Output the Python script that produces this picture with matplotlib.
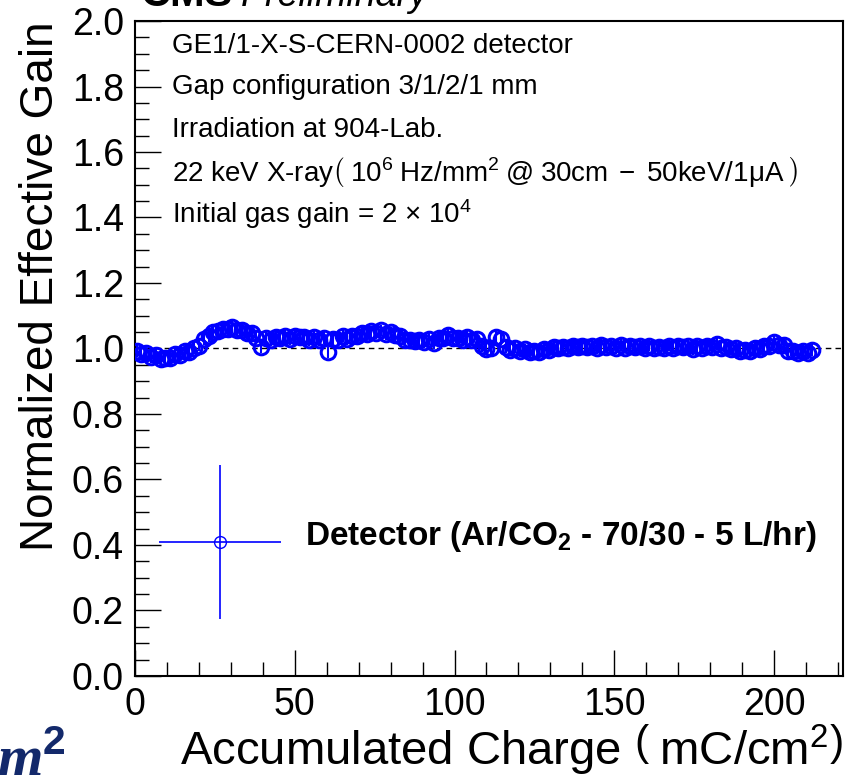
import matplotlib
matplotlib.use("Agg")
import matplotlib.pyplot as plt

plt.rcParams['font.family'] = ['Liberation Sans', 'DejaVu Sans']
plt.rcParams['mathtext.fontset'] = 'custom'
plt.rcParams['mathtext.rm'] = 'Liberation Sans'
plt.rcParams['mathtext.it'] = 'Liberation Sans:italic'
plt.rcParams['mathtext.bf'] = 'Liberation Sans:bold'

# Accumulated charge (mC/cm2) and normalized effective gain
charge = [0.5, 2, 3.5, 5, 6.5, 8, 9.5, 11, 12.5, 14,
          15.5, 17, 18.5, 20, 21.5, 23, 24.5, 26, 27.5, 29,
          30.5, 32, 33.5, 35, 36.5, 38, 39.5, 41, 42.5, 44,
          45.5, 47, 48.5, 50, 51.5, 53, 54.5, 56, 57.5, 59,
          60.5, 62, 63.5, 65, 66.5, 68, 69.5, 71, 72.5, 74,
          75.5, 77, 78.5, 80, 81.5, 83, 84.5, 86, 87.5, 89,
          90.5, 92, 93.5, 95, 96.5, 98, 99.5, 101, 102.5, 104,
          105.5, 107, 108.5, 110, 111.5, 113, 114.5, 116, 117.5, 119,
          120.5, 122, 123.5, 125, 126.5, 128, 129.5, 131, 132.5, 134,
          135.5, 137, 138.5, 140, 141.5, 143, 144.5, 146, 147.5, 149,
          150.5, 152, 153.5, 155, 156.5, 158, 159.5, 161, 162.5, 164,
          165.5, 167, 168.5, 170, 171.5, 173, 174.5, 176, 177.5, 179,
          180.5, 182, 183.5, 185, 186.5, 188, 189.5, 191, 192.5, 194,
          195.5, 197, 198.5, 200, 201.5, 203, 204.5, 206, 207.5, 209,
          210.5, 212]
gain = [0.992, 0.984, 0.985, 0.975, 0.979, 0.968, 0.971, 0.972, 0.982, 0.979,
        0.991, 0.990, 1.001, 1.009, 1.029, 1.037, 1.051, 1.052, 1.061, 1.060,
        1.066, 1.055, 1.057, 1.047, 1.047, 1.033, 1.004, 1.031, 1.027, 1.035,
        1.031, 1.039, 1.028, 1.038, 1.035, 1.036, 1.027, 1.035, 1.025, 1.033,
        0.988, 1.029, 1.027, 1.037, 1.029, 1.039, 1.037, 1.047, 1.043, 1.052,
        1.047, 1.055, 1.045, 1.049, 1.041, 1.039, 1.025, 1.027, 1.023, 1.025,
        1.021, 1.029, 1.017, 1.031, 1.031, 1.041, 1.031, 1.033, 1.025, 1.035,
        1.027, 1.029, 1.008, 0.998, 1.000, 1.036, 1.030, 1.004, 0.995, 1.003,
        0.993, 0.997, 0.989, 0.993, 0.990, 0.999, 0.995, 1.005, 1.001, 1.006,
        1.003, 1.007, 1.004, 1.008, 1.005, 1.009, 1.001, 1.010, 1.006, 1.009,
        1.002, 1.011, 1.003, 1.007, 1.004, 1.008, 1.000, 1.009, 1.001, 1.005,
        1.001, 1.009, 1.000, 1.008, 1.004, 1.007, 0.999, 1.008, 1.000, 1.009,
        1.005, 1.013, 1.003, 1.005, 0.997, 1.001, 0.991, 0.995, 0.992, 1.001,
        0.999, 1.009, 1.009, 1.019, 1.011, 1.011, 0.991, 0.993, 0.985, 0.992,
        0.987, 0.995]
gain_err = 0.018

# legend sample point (charge, gain, x half-width, y half-height)
leg_x, leg_y, leg_xerr, leg_yerr = 26.6, 0.41, 19.0, 0.235

info_lines = [
    'GE1/1-X-S-CERN-0002 detector',
    'Gap configuration 3/1/2/1 mm',
    'Irradiation at 904-Lab.',
    r'22 keV X-ray$\left(\;\mathrm{10^{6}\;Hz/mm^{2}\;@\;30cm\;-\;50keV/1\mu A}\;\right)$',
    r'Initial gas gain = 2 $\times$ 10$^{4}$',
]
info_y = [0.962, 0.899, 0.833, 0.769, 0.705]

fig = plt.figure(figsize=(8.46, 7.84), dpi=100)
ax = fig.add_axes([0.1596, 0.1378, 0.8369, 0.8354])

ax.axhline(1.0, color='black', lw=1.0, ls=(0, (4, 3)), zorder=1)
ax.errorbar(charge, gain, yerr=gain_err, fmt='o', color='blue', mfc='none',
            mec='blue', ms=10.5, mew=2.2, elinewidth=1.5, zorder=3)

# legend entry drawn like the ROOT one
ax.errorbar([leg_x], [leg_y], xerr=leg_xerr, yerr=leg_yerr, fmt='o', color='blue',
            mfc='none', ms=8.5, mew=1.0, elinewidth=1.2)
ax.text(0.240, 0.213, r'Detector (Ar/CO$_\mathbf{2}$ - 70/30 - 5 L/hr)', transform=ax.transAxes,
        fontsize=24, fontweight='bold', va='center', ha='left')

for txt, yy in zip(info_lines, info_y):
    ax.text(0.052, yy, txt, transform=ax.transAxes, fontsize=20, va='center', ha='left')

ax.set_xlim(0, 221.6)
ax.set_ylim(0, 2.0)
ax.set_xticks([0, 50, 100, 150, 200])
ax.set_xticks(range(0, 221, 10), minor=True)
ax.set_yticks([0.0, 0.2, 0.4, 0.6, 0.8, 1.0, 1.2, 1.4, 1.6, 1.8, 2.0])
ax.set_yticks([i * 0.05 for i in range(41)], minor=True)
ax.set_yticklabels(['0.0', '0.2', '0.4', '0.6', '0.8', '1.0', '1.2', '1.4', '1.6', '1.8', '2.0'])
ax.tick_params(which='both', direction='in', top=False, right=False, labelsize=27, width=1.0)
ax.tick_params(which='major', length=19, pad=8)
ax.tick_params(which='minor', length=10)
for sp in ax.spines.values():
    sp.set_linewidth(1.5)

ax.set_xlabel(r'Accumulated Charge $\left(\;\mathrm{mC/cm^{2}}\right)$', fontsize=34, loc='right', labelpad=-1)
ax.set_ylabel('Normalized Effective Gain', fontsize=33, loc='top', labelpad=6)

# cut-off header above the frame
ax.text(0.008, 1.023, 'CMS', transform=ax.transAxes, fontsize=30, fontweight='bold', va='baseline')
ax.text(0.150, 1.023, 'Preliminary', transform=ax.transAxes, fontsize=27, style='italic', va='baseline')

# fragment from the neighbouring slide in the bottom-left corner
fig.text(-0.004, 0.010, r'm$^\mathbf{2}$', fontsize=42, family='Liberation Serif', fontweight='bold',
         style='italic', color='#13296b', va='baseline', ha='left')

fig.savefig('out.png', dpi=100)
